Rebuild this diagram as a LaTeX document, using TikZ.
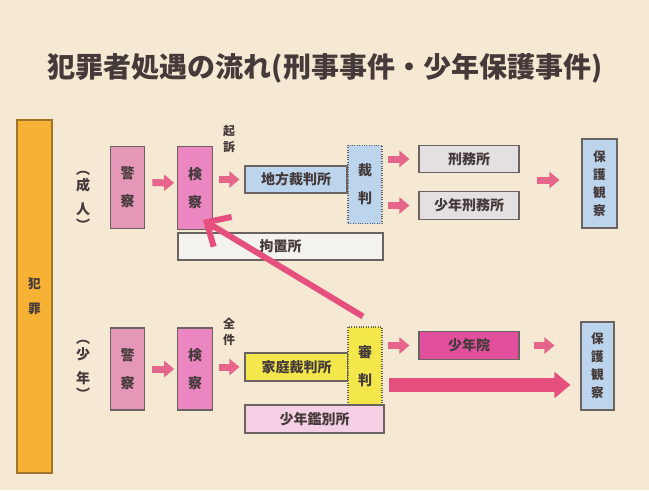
\documentclass[tikz,border=0pt]{standalone}
\usepackage{fontspec}
\setmainfont{Noto Sans CJK JP}
\usetikzlibrary{arrows.meta}
\definecolor{paper}{HTML}{F6E9D3}
\definecolor{ink}{HTML}{453A3A}
\definecolor{boxline}{HTML}{6B6262}
\definecolor{policepink}{HTML}{E497B6}
\definecolor{prosecpink}{HTML}{EC86C0}
\definecolor{courtblue}{HTML}{BCD4EC}
\definecolor{prisongray}{HTML}{E4E0E1}
\definecolor{detainwhite}{HTML}{F4F2EF}
\definecolor{familyyellow}{HTML}{F3E74C}
\definecolor{classifypink}{HTML}{F5CFE3}
\definecolor{trainingpink}{HTML}{E2509D}
\definecolor{crimeorange}{HTML}{F7B235}
\definecolor{crimeline}{HTML}{A27427}
\definecolor{arrowpink}{HTML}{E5668A}
\definecolor{bigpink}{HTML}{E6507E}
\begin{document}
\begin{tikzpicture}[x=0.75pt, y=-0.75pt,
  box/.style={draw=boxline, line width=0.8pt, inner sep=0pt, align=center, text=ink,
    font=\fontsize{10.5}{21}\selectfont\bfseries},
  tallbox/.style={box, minimum width=26pt, minimum height=62pt},
  widebox/.style={box, minimum width=75pt, minimum height=20.5pt},
  judgebox/.style={box, densely dotted, minimum width=25.5pt, minimum height=59pt},
  flow/.style={draw=arrowpink, line width=5.25pt, -{Triangle[length=7.5pt,width=12pt]}},
  bigflow/.style={draw=bigpink, line width=10pt, -{Triangle[length=12pt,width=19pt]}},
  sidelabel/.style={align=center, text=ink, font=\fontsize{10.5}{12}\selectfont\bfseries},
]
\path[use as bounding box, fill=paper] (0,0) rectangle (649,490);

\node[text=ink, font=\fontsize{21}{25}\selectfont\bfseries] (title) at (325,68) {犯罪者処遇の流れ(刑事事件・少年保護事件)};

\node[draw=crimeline, fill=crimeorange, line width=1pt, minimum width=26.25pt, minimum height=264.75pt,
  align=center, text=ink, font=\fontsize{9.5}{19}\selectfont\bfseries] (crime) at (34.5,296.5) {犯\\罪};

% adult
\node[sidelabel] (adult) at (83,201) {︵\\[0pt]成\\[6pt]人\\[0pt]︶};
\node[tallbox, fill=policepink] (police_a) at (127.5,187.5) {警\\察};
\node[tallbox, fill=prosecpink] (prosec_a) at (195,188) {検\\察};
\node[sidelabel, font=\fontsize{9}{11.5}\selectfont\bfseries] (kiso) at (229,139) {起\\訴};
\node[box, fill=courtblue, minimum width=76.5pt, minimum height=20.25pt] (district) at (296,179.5) {地方裁判所};
\node[judgebox, fill=courtblue] (trial) at (365,184.5) {裁\\判};
\node[widebox, fill=prisongray] (prison) at (469,159) {刑務所};
\node[widebox, fill=prisongray] (juvprison) at (469,205.5) {少年刑務所};
\node[box, fill=courtblue, minimum width=26.25pt, minimum height=66.75pt,
  font=\fontsize{9.5}{13.5}\selectfont\bfseries] (probation_a) at (599.5,183.5) {保\\護\\観\\察};
\node[box, fill=detainwhite, minimum width=153.75pt, minimum height=20.25pt] (detention) at (280.5,246.5) {拘置所};
\coordinate (release_a) at (537,180);

% juvenile
\node[sidelabel] (juvenile) at (83,370) {︵\\[0pt]少\\[6pt]年\\[0pt]︶};
\node[tallbox, fill=policepink, minimum height=61.5pt] (police_j) at (127.5,369) {警\\察};
\node[tallbox, fill=prosecpink, minimum height=61.5pt] (prosec_j) at (195,369) {検\\察};
\node[sidelabel, font=\fontsize{9}{11.5}\selectfont\bfseries] (zenken) at (229,332) {全\\件};
\node[box, fill=familyyellow, minimum width=77.25pt, minimum height=21pt] (family) at (296.5,367) {家庭裁判所};
\node[judgebox, fill=familyyellow, minimum height=58.5pt] (hearing) at (365,366) {審\\判};
\node[box, fill=classifypink, minimum width=104.25pt, minimum height=21pt] (classify) at (314.5,419) {少年鑑別所};
\node[widebox, fill=trainingpink] (training) at (469,345.5) {少年院};
\node[box, fill=courtblue, minimum width=24.75pt, minimum height=66pt,
  font=\fontsize{9.5}{13.5}\selectfont\bfseries] (probation_j) at (597.5,366) {保\\護\\観\\察};

\draw[flow, shorten <=5.25pt, shorten >=2.25pt] ([yshift=3.75pt]police_a.east) -- ([yshift=3.75pt]prosec_a.west);
\draw[flow, shorten <=4.5pt, shorten >=3.75pt] (prosec_a.east |- district.west) -- (district.west);
\draw[flow, shorten <=3.75pt, shorten >=6.75pt] (trial.east |- prison.west) -- (prison.west);
\draw[flow, shorten <=3.75pt, shorten >=6.75pt] (trial.east |- juvprison.west) -- (juvprison.west);
\draw[flow, shorten >=16.5pt] (release_a) -- (release_a -| probation_a.west);

\draw[flow, shorten <=5.25pt, shorten >=2.25pt] (police_j) -- (prosec_j);
\draw[flow, shorten <=4.5pt, shorten >=3.75pt] (prosec_j.east |- family.west) -- (family.west);
\draw[flow, shorten <=3.75pt, shorten >=6.75pt] (hearing.east |- training.west) -- (training.west);
\draw[flow, shorten <=10.5pt, shorten >=19.5pt] (training) -- (training -| probation_j.west);
\draw[bigflow, shorten <=4.5pt, shorten >=7.5pt] ([yshift=-14.25pt]hearing.east) -- ([yshift=-14.25pt]hearing.east -| probation_j.west);

\draw[draw=bigpink, line width=4.5pt, -{Straight Barb[length=14pt,width=26pt]}]
  ([shift={(-2,-10)}]hearing.north) -- ([shift={(-10,-10)}]prosec_a.south east);
\end{tikzpicture}
\end{document}
